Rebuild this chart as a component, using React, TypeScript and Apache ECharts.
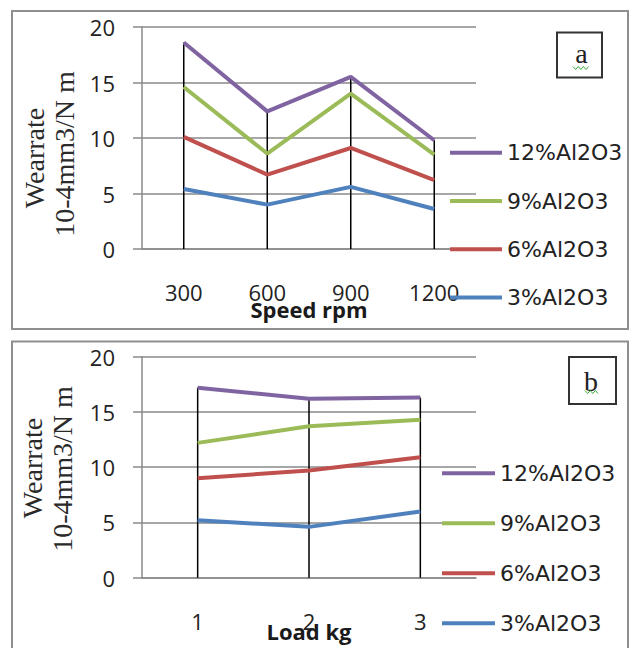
import React, { useEffect, useRef } from "react";
import * as echarts from "echarts";

const speedCategories = ["300", "600", "900", "1200"];
const loadCategories = ["1", "2", "3"];
const seriesNames = ["12%Al2O3", "9%Al2O3", "6%Al2O3", "3%Al2O3"];
const seriesColors = ["#8064A2", "#9BBB59", "#C0504D", "#4F81BD"];
const yNameLines = ["Wearrate", "10-4mm3/N m"];

const speed12 = [18.6, 12.4, 15.5, 9.8];
const speed9 = [14.6, 8.6, 14.0, 8.5];
const speed6 = [10.1, 6.7, 9.1, 6.2];
const speed3 = [5.4, 4.0, 5.6, 3.6];

const load12 = [17.2, 16.2, 16.3];
const load9 = [12.2, 13.7, 14.3];
const load6 = [9.0, 9.7, 10.9];
const load3 = [5.2, 4.6, 6.0];

const yTicks = { min: 0, max: 20, interval: 5 };

const TICK_FONT = "'Open Sans', 'Liberation Sans', sans-serif";
const LEGEND_FONT = "'DejaVu Sans', 'Open Sans', sans-serif";
const SERIF = "'Liberation Serif', 'DejaVu Serif', serif";
const GRID_GREY = "#8a8a8a";

function squiggle(x0: number, x1: number, y: number) {
  const pts: number[][] = [];
  let up = true;
  for (let x = x0; x <= x1 + 0.01; x += 2.6) {
    pts.push([x, up ? y - 1.5 : y + 1.5]);
    up = !up;
  }
  return pts;
}

function yNameText(text: string, x: number, y: number) {
  return {
    type: "text",
    x,
    y,
    rotation: Math.PI / 2,
    style: {
      text,
      fontFamily: SERIF,
      fontSize: 28,
      fill: "#2a2a2a",
      align: "center",
      verticalAlign: "middle",
    },
    silent: true,
  };
}

export default function App() {
  const ref = useRef<HTMLDivElement>(null);

  useEffect(() => {
    if (!ref.current) return;
    const chart = echarts.init(ref.current, null, { renderer: "svg" });

    const speedSeries = [speed12, speed9, speed6, speed3];
    const loadSeries = [load12, load9, load6, load3];

    const speedMax = speedCategories.map((_, i) => [i, Math.max(...speedSeries.map((s) => s[i]))]);
    const loadMax = loadCategories.map((_, i) => [i, Math.max(...loadSeries.map((s) => s[i]))]);

    const dropRender = (params: any, api: any) => {
      const top = api.coord([api.value(0), api.value(1)]);
      const bot = api.coord([api.value(0), 0]);
      return {
        type: "line",
        shape: { x1: top[0], y1: top[1], x2: bot[0], y2: bot[1] },
        style: { stroke: "#000", lineWidth: 1.5 },
      };
    };

    const yAxisCommon = {
      type: "value",
      min: yTicks.min,
      max: yTicks.max,
      interval: yTicks.interval,
      axisLine: { show: true, lineStyle: { color: GRID_GREY, width: 1.5 } },
      axisTick: { show: true, length: 9, lineStyle: { color: GRID_GREY, width: 1.5 } },
      splitLine: { show: true, lineStyle: { color: GRID_GREY, width: 1.5 } },
      axisLabel: { margin: 27, fontFamily: TICK_FONT, fontSize: 22, color: "#222" },
    };

    const xAxisCommon = {
      type: "category",
      boundaryGap: true,
      axisLine: { show: true, lineStyle: { color: GRID_GREY, width: 1.5 } },
      axisTick: { show: false },
      axisLabel: { margin: 32, fontFamily: TICK_FONT, fontSize: 22, color: "#222" },
      nameLocation: "middle",
      nameMoveOverlap: false,
      nameTextStyle: {
        fontFamily: TICK_FONT,
        fontSize: 22,
        fontWeight: "bold",
        lineHeight: 22,
        color: "#1a1a1a",
      },
    };

    const lineSeries: any[] = [];
    seriesNames.forEach((name, k) => {
      lineSeries.push({
        name,
        type: "line",
        xAxisIndex: 0,
        yAxisIndex: 0,
        data: speedSeries[k],
        symbol: "none",
        lineStyle: { width: 4, color: seriesColors[k] },
        itemStyle: { color: seriesColors[k] },
        z: 3,
      });
      lineSeries.push({
        name,
        type: "line",
        xAxisIndex: 1,
        yAxisIndex: 1,
        data: loadSeries[k],
        symbol: "none",
        lineStyle: { width: 4, color: seriesColors[k] },
        itemStyle: { color: seriesColors[k] },
        z: 3,
      });
    });

    const legendCommon = {
      orient: "vertical",
      icon: "rect",
      padding: 0,
      itemHeight: 4,
      itemGap: 24.3,
      itemWidth: 52,
      selectedMode: false,
      textStyle: { fontFamily: LEGEND_FONT, fontSize: 22, lineHeight: 24, color: "#222" },
      data: seriesNames,
    };

    chart.setOption({
      animation: false,
      backgroundColor: "#fff",
      grid: [
        { left: 142, top: 27, width: 334, height: 222, outerBoundsMode: "none", containLabel: false },
        { left: 142, top: 356.7, width: 334, height: 221, outerBoundsMode: "none", containLabel: false },
      ],
      xAxis: [
        { ...xAxisCommon, gridIndex: 0, data: speedCategories, name: "Speed rpm", nameGap: 49 },
        { ...xAxisCommon, gridIndex: 1, data: loadCategories, name: "Load kg", nameGap: 42 },
      ],
      yAxis: [
        { ...yAxisCommon, gridIndex: 0 },
        { ...yAxisCommon, gridIndex: 1 },
      ],
      legend: [
        { ...legendCommon, left: 450, top: 140.7 },
        { ...legendCommon, left: 442, top: 461.3, itemWidth: 53, itemGap: 26 },
      ],
      series: [
        {
          type: "custom",
          xAxisIndex: 0,
          yAxisIndex: 0,
          data: speedMax,
          encode: { x: 0, y: 1 },
          renderItem: dropRender,
          z: 2,
        },
        {
          type: "custom",
          xAxisIndex: 1,
          yAxisIndex: 1,
          data: loadMax,
          encode: { x: 0, y: 1 },
          renderItem: dropRender,
          z: 2,
        },
        ...lineSeries,
      ],
      graphic: [
        {
          type: "rect",
          shape: { x: 12, y: 11, width: 616, height: 318 },
          style: { fill: "none", stroke: "#8f8f8f", lineWidth: 2 },
          silent: true,
        },
        {
          type: "rect",
          shape: { x: 12, y: 341.5, width: 616, height: 330 },
          style: { fill: "none", stroke: "#8f8f8f", lineWidth: 2 },
          silent: true,
        },
        yNameText(yNameLines[0], 34, 158),
        yNameText(yNameLines[1], 64, 154),
        yNameText(yNameLines[0], 32, 468),
        yNameText(yNameLines[1], 62, 469),
        {
          type: "rect",
          shape: { x: 557, y: 32.5, width: 45, height: 45 },
          style: { fill: "#fff", stroke: "#333", lineWidth: 2 },
        },
        {
          type: "text",
          x: 581.5,
          y: 53,
          style: {
            text: "a",
            fontFamily: SERIF,
            fontSize: 28,
            fill: "#222",
            align: "center",
            verticalAlign: "middle",
          },
        },
        {
          type: "polyline",
          shape: { points: squiggle(573, 590, 68) },
          style: { stroke: "#3cae3c", lineWidth: 1, fill: "none" },
        },
        {
          type: "rect",
          shape: { x: 569, y: 357, width: 47, height: 47 },
          style: { fill: "#fff", stroke: "#333", lineWidth: 2 },
        },
        {
          type: "text",
          x: 591,
          y: 381,
          style: {
            text: "b",
            fontFamily: SERIF,
            fontSize: 28,
            fill: "#222",
            align: "center",
            verticalAlign: "middle",
          },
        },
        {
          type: "polyline",
          shape: { points: squiggle(585, 600, 392) },
          style: { stroke: "#3cae3c", lineWidth: 1, fill: "none" },
        },
      ],
    });

    return () => chart.dispose();
  }, []);

  return (
    <div
      ref={ref}
      style={{ position: "absolute", left: 0, top: 0, width: 634, height: 648 }}
    />
  );
}
